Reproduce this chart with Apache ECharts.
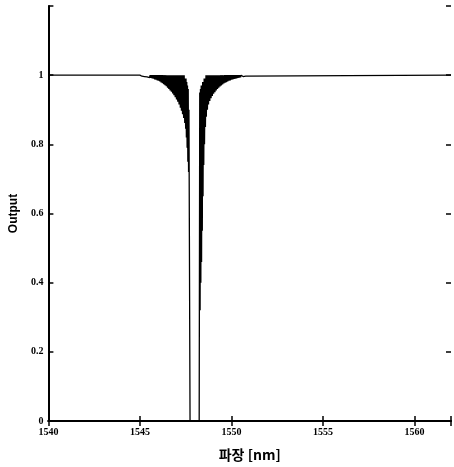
<!DOCTYPE html>
<html>
<head>
<meta charset="utf-8">
<script src="https://cdn.jsdelivr.net/npm/echarts@6/dist/echarts.min.js"></script>
<style>
  html, body { margin: 0; padding: 0; background: #fff; }
  #main { width: 454px; height: 467px; }
</style>
</head>
<body>
<div id="main"></div>
<script>
// axis ticks
var xTicks = [1540, 1545, 1550, 1555, 1560];
var yTicks = [0, 0.2, 0.4, 0.6, 0.8, 1];

// transmission spectrum, [wavelength nm, output]
var flatLeft = [[1540, 1], [1545.00, 1]];
var lobesLeft = [
  [1545.04,0.998],[1545.07,1],[1545.11,0.997],[1545.14,1],[1545.18,0.997],[1545.21,1],[1545.25,0.996],[1545.28,1],
  [1545.32,0.996],[1545.35,1],[1545.39,0.995],[1545.42,1],[1545.46,0.994],[1545.49,1],[1545.53,0.993],[1545.56,1],
  [1545.60,0.992],[1545.63,1],[1545.67,0.991],[1545.70,1],[1545.74,0.990],[1545.77,1],[1545.81,0.988],[1545.84,1],
  [1545.88,0.987],[1545.91,1],[1545.95,0.985],[1545.98,1],[1546.02,0.984],[1546.05,1],[1546.09,0.982],[1546.12,1],
  [1546.16,0.979],[1546.19,1],[1546.23,0.977],[1546.26,1],[1546.30,0.974],[1546.33,1],[1546.37,0.971],[1546.40,1],
  [1546.44,0.968],[1546.47,1],[1546.51,0.964],[1546.54,1],[1546.58,0.960],[1546.61,1],[1546.65,0.956],[1546.68,1],
  [1546.72,0.952],[1546.75,1],[1546.79,0.947],[1546.82,1],[1546.86,0.942],[1546.89,1],[1546.93,0.936],[1546.96,1],
  [1547.00,0.930],[1547.03,1],[1547.07,0.923],[1547.10,1],[1547.14,0.915],[1547.17,1],[1547.21,0.906],[1547.24,1],
  [1547.27,0.897],[1547.30,1],[1547.33,0.887],[1547.36,1],[1547.39,0.876],[1547.42,1],[1547.45,0.862],[1547.47,0.99],
  [1547.50,0.845],[1547.52,0.99],[1547.54,0.82],[1547.56,0.98],[1547.58,0.79],[1547.60,0.97],[1547.62,0.75],[1547.64,0.96],
  [1547.66,0.72],[1547.68,0.9],[1547.74,0]
];
var stopBand = [[1547.74, 0], [1548.24, 0]];
var lobesRight = [
  [1548.27,0.95],[1548.29,0.32],[1548.31,0.96],[1548.33,0.40],[1548.35,0.97],[1548.37,0.46],[1548.39,0.97],[1548.41,0.55],
  [1548.43,0.98],[1548.45,0.65],[1548.47,0.98],[1548.49,0.74],[1548.51,0.99],[1548.53,0.80],[1548.56,0.99],[1548.58,0.85],
  [1548.61,1],[1548.63,0.88],[1548.66,1],[1548.69,0.90],[1548.72,1],[1548.75,0.915],[1548.78,1],[1548.82,0.925],
  [1548.85,1],[1548.89,0.933],[1548.92,1],[1548.96,0.940],[1548.99,1],[1549.03,0.946],[1549.06,1],[1549.10,0.951],
  [1549.13,1],[1549.17,0.956],[1549.20,1],[1549.24,0.960],[1549.27,1],[1549.31,0.964],[1549.34,1],[1549.38,0.967],
  [1549.41,1],[1549.45,0.970],[1549.48,1],[1549.52,0.973],[1549.55,1],[1549.59,0.976],[1549.62,1],[1549.66,0.978],
  [1549.69,1],[1549.73,0.980],[1549.76,1],[1549.80,0.982],[1549.83,1],[1549.87,0.984],[1549.90,1],[1549.94,0.985],
  [1549.97,1],[1550.01,0.987],[1550.04,1],[1550.08,0.988],[1550.11,1],[1550.15,0.989],[1550.18,1],[1550.22,0.990],
  [1550.25,1],[1550.29,0.991],[1550.32,1],[1550.36,0.992],[1550.39,1],[1550.43,0.993],[1550.46,1],[1550.50,0.994],
  [1550.53,1],[1550.57,0.995],[1550.60,1],[1550.64,0.996],[1550.67,1],[1550.71,0.996],[1550.74,1],[1550.78,0.997],
  [1550.81,1],[1550.85,0.997],[1550.88,1]
];
var flatRight = [[1550.88, 1], [1562, 1]];

var spectrum = flatLeft.concat(lobesLeft, stopBand, lobesRight, flatRight);

var chartDom = document.getElementById('main');
var myChart = echarts.init(chartDom);

var labelFont = { color: '#000', fontFamily: 'Liberation Serif', fontWeight: 'bold', fontSize: 10 };
var tickStyle = { show: true, inside: true, length: 5, lineStyle: { color: '#000', width: 1.5 } };
var lineStyleAxis = { show: true, lineStyle: { color: '#000', width: 2 } };

var option = {
  animation: false,
  backgroundColor: '#fff',
  grid: { left: 48, right: 0, top: 6, bottom: 46 },
  xAxis: [{
    type: 'value',
    min: 1540, max: 1562, interval: 5,
    axisLine: lineStyleAxis,
    axisTick: tickStyle,
    splitLine: { show: false },
    axisLabel: Object.assign({
      margin: 6,
      formatter: function (v) { return xTicks.indexOf(v) >= 0 ? String(v) : ''; }
    }, labelFont),
    name: '파장 [nm]',
    nameLocation: 'middle',
    nameGap: 27,
    nameTextStyle: { color: '#000', fontFamily: 'Noto Sans CJK KR', fontWeight: 'bold', fontSize: 14 }
  }, {
    type: 'value', position: 'top',
    min: 1540, max: 1562, interval: 5,
    axisLine: lineStyleAxis,
    axisTick: tickStyle,
    axisLabel: { show: false },
    splitLine: { show: false }
  }],
  yAxis: [{
    type: 'value',
    min: 0, max: 1.2, interval: 0.2,
    axisLine: lineStyleAxis,
    axisTick: tickStyle,
    splitLine: { show: false },
    axisLabel: Object.assign({
      margin: 5,
      formatter: function (v) {
        var r = Math.round(v * 10) / 10;
        return yTicks.indexOf(r) >= 0 ? String(r) : '';
      }
    }, labelFont),
    name: 'Output',
    nameLocation: 'middle',
    nameGap: 27,
    nameTextStyle: { color: '#000', fontFamily: 'Liberation Sans', fontWeight: 'bold', fontSize: 12 }
  }, {
    type: 'value', position: 'right',
    min: 0, max: 1.2, interval: 0.2,
    axisLine: { show: false },
    axisTick: tickStyle,
    axisLabel: { show: false },
    splitLine: { show: false }
  }],
  series: [{
    type: 'line',
    name: 'Output',
    data: spectrum,
    showSymbol: false,
    sampling: null,
    lineStyle: { color: '#000', width: 1.3 }
  }]
};

option && myChart.setOption(option);
</script>
</body>
</html>
